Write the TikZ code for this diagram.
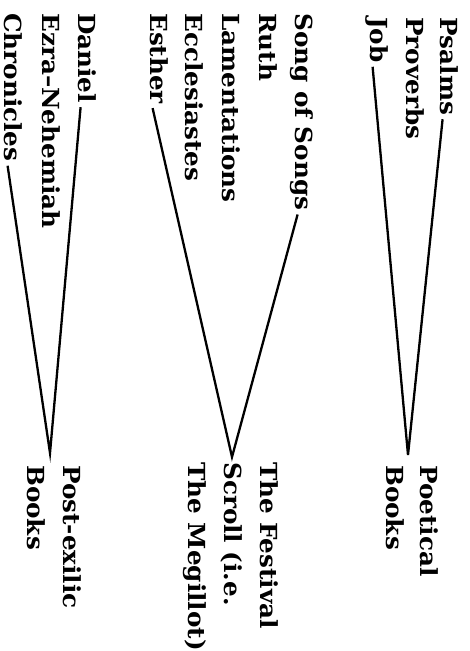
\documentclass[tikz,border=0pt]{standalone}
\usepackage{fontspec}
\setmainfont{DejaVu Serif}
\newfontfamily\bookfont[FakeStretch=1.05,Ligatures=TeX]{DejaVu Serif Bold}
\usetikzlibrary{calc}
\begin{document}
\begin{tikzpicture}[x=1pt,y=-1pt,
  book/.style={rotate=-90,anchor=base west,inner sep=0pt,
    font=\fontsize{23.5}{36}\bookfont},
  group/.style={rotate=-90,anchor=north west,inner sep=0pt,align=left,
    font=\fontsize{23.5}{36}\bookfont},
  link/.style={line width=2.3pt,line join=miter}]
\useasboundingbox (0,0) rectangle (470,651);
% Poetical books
\node[book] (psalms) at (440,17) {Psalms};
\node[book] (proverbs) at (406,17) {Proverbs};
\node[book] (job) at (370,17) {Job};
\coordinate (v1) at (408,455);
\draw[link] ([yshift=-4pt]psalms.mid east) -- (v1) -- ([yshift=-4pt]job.mid east);
\node[group,font=\fontsize{23.5}{34}\bookfont] (poet) at (439,465) {Poetical\\Books};
% Festival scroll
\node[book] (song) at (295,13) {Song of Songs};
\node[book] (ruth) at (259,13) {Ruth};
\node[book] (lam) at (222,13) {Lamentations};
\node[book] (eccl) at (185,13) {Ecclesiastes};
\node[book] (esther) at (150,13) {Esther};
\coordinate (v2) at (232,457);
\draw[link] ([yshift=-4pt]song.mid east) -- (v2) -- ([yshift=-4pt]esther.mid east);
\node[group] (fest) at (279,462) {The Festival\\Scroll (i.e.\\The Megillot)};
% Post-exilic
\node[book] (daniel) at (78,13) {Daniel};
\node[book] (ezra) at (42,13) {Ezra–Nehemiah};
\node[book] (chron) at (5,13) {Chronicles};
\coordinate (v3) at (50,453);
\draw[link] ([yshift=-4pt]daniel.mid east) -- (v3) -- ([yshift=-4pt]chron.mid east);
\node[group] (post) at (82,465) {Post-exilic\\Books};
\end{tikzpicture}
\end{document}
